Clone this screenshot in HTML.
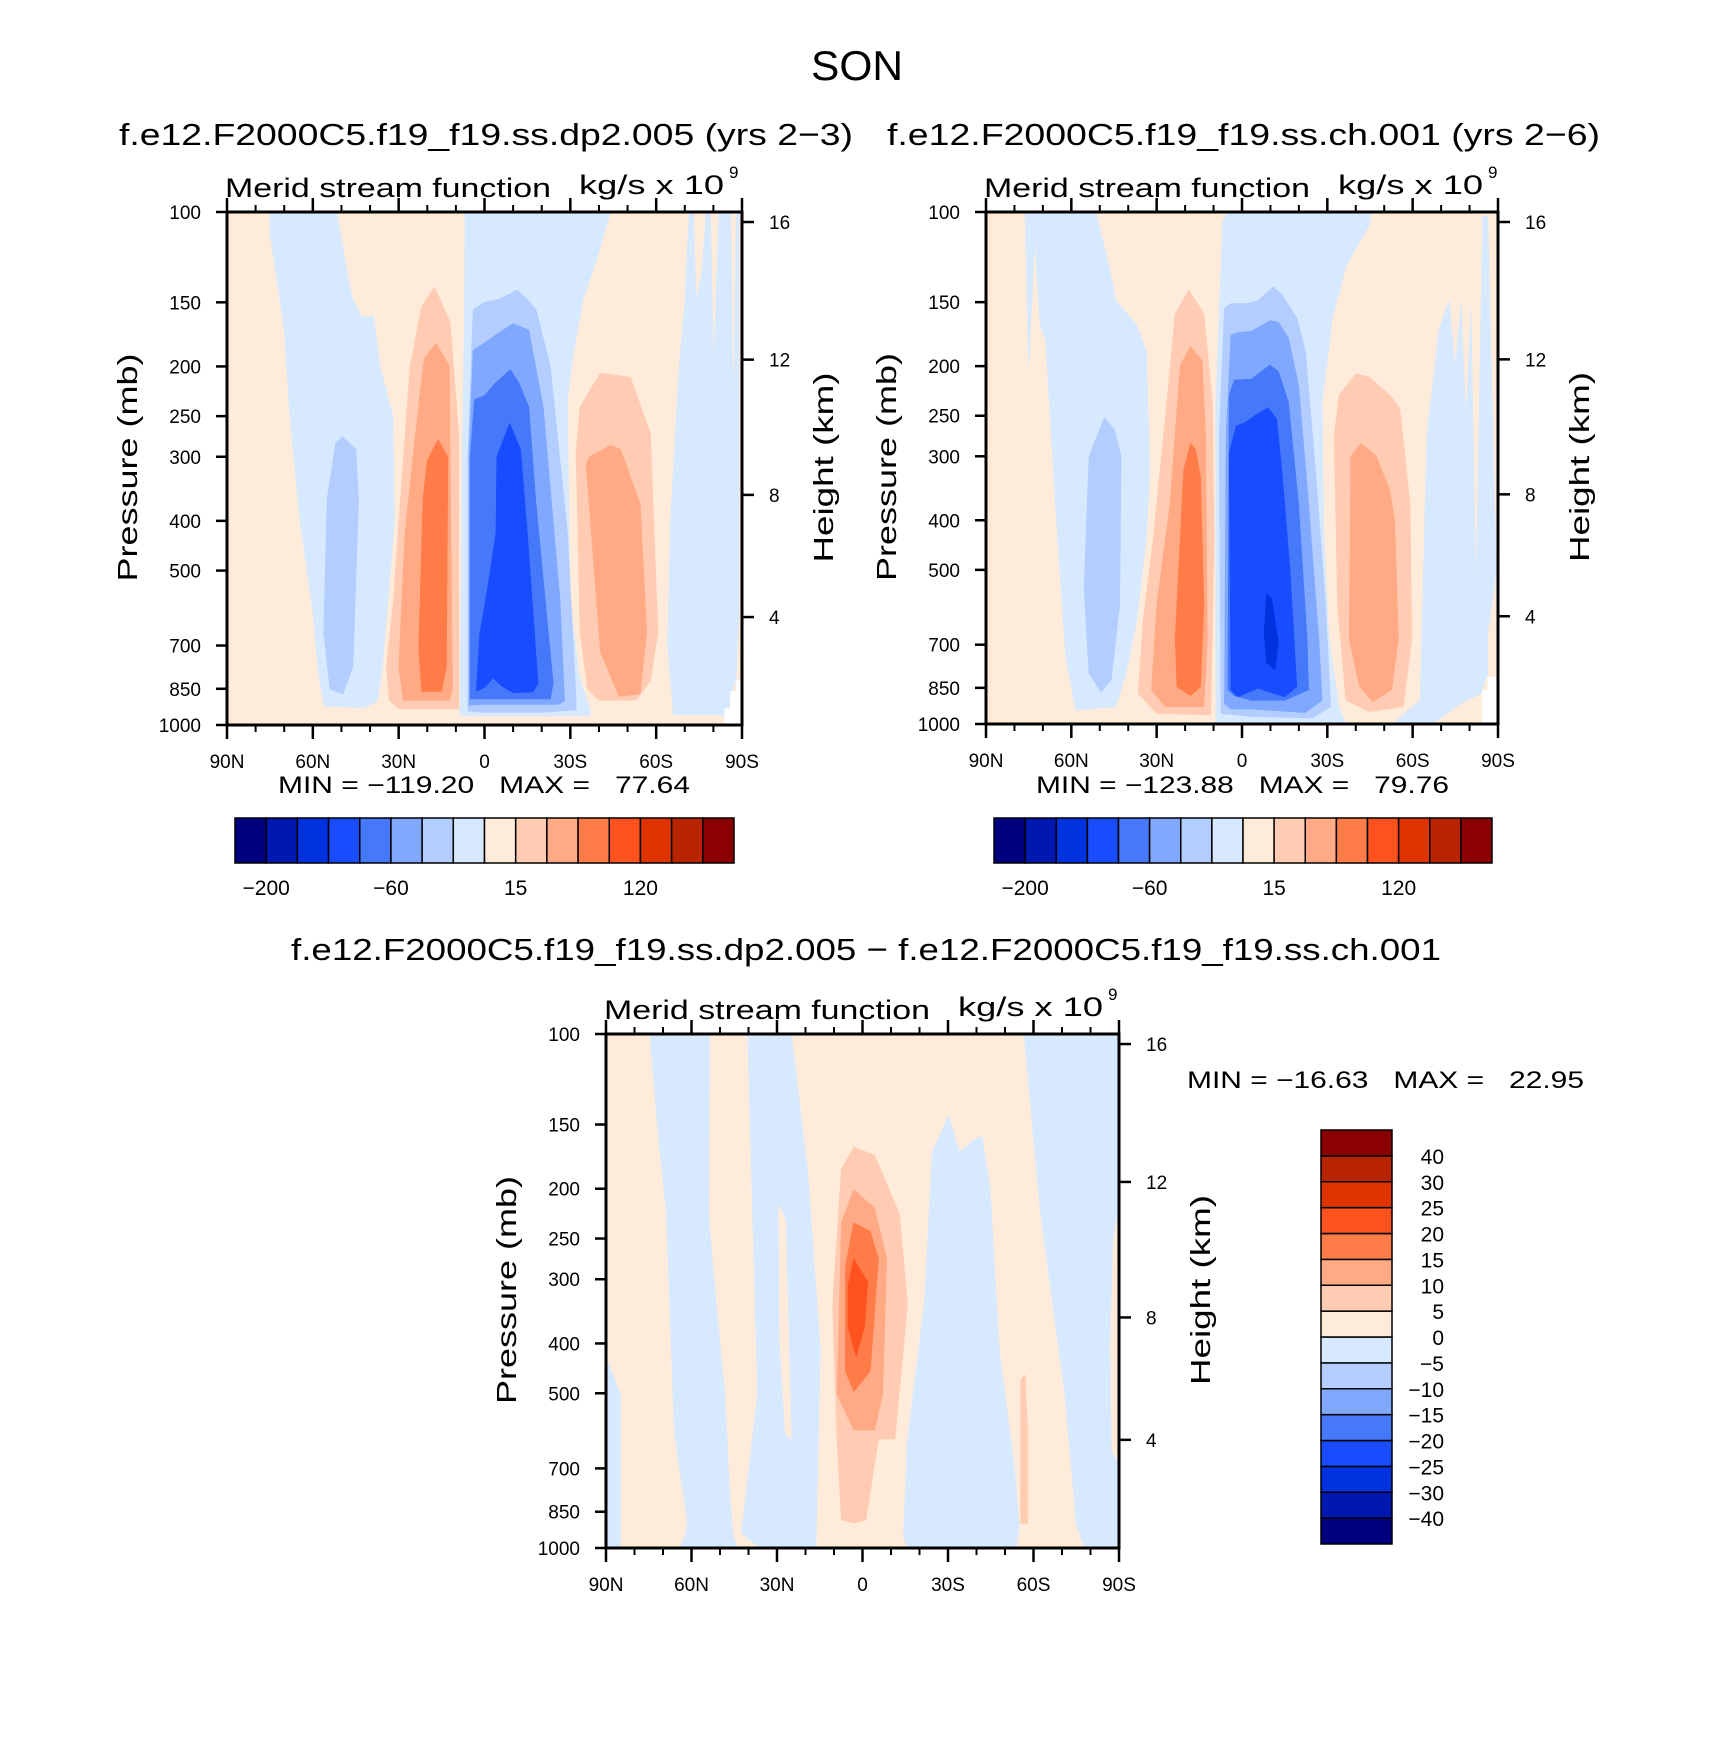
<!DOCTYPE html>
<html><head><meta charset="utf-8">
<style>
html,body{margin:0;padding:0;background:#fff;}
svg{display:block;}
text{font-family:"Liberation Sans",sans-serif;fill:#000;}
.pre{white-space:pre;}
</style></head>
<body>
<svg id="fig" xmlns="http://www.w3.org/2000/svg" width="1710" height="1758" viewBox="0 0 1710 1758">
<rect x="0" y="0" width="1710" height="1758" fill="#fff"/>
<text x="857" y="80" font-size="42" text-anchor="middle" textLength="92" lengthAdjust="spacingAndGlyphs">SON</text>
<text x="119" y="145" font-size="31" textLength="734" lengthAdjust="spacingAndGlyphs">f.e12.F2000C5.f19_f19.ss.dp2.005 (yrs 2−3)</text>
<text x="887" y="145" font-size="31" textLength="713" lengthAdjust="spacingAndGlyphs">f.e12.F2000C5.f19_f19.ss.ch.001 (yrs 2−6)</text>
<text x="291" y="960" font-size="31" textLength="1150" lengthAdjust="spacingAndGlyphs">f.e12.F2000C5.f19_f19.ss.dp2.005 − f.e12.F2000C5.f19_f19.ss.ch.001</text>
<g id="layer"></g>
</svg>
<script>
// ---- data ----
const palette = ["#00007f","#0018b0","#0032e0","#1a4cff","#4679fa","#80a8ff","#b3cdff","#d6e9ff","#ffebd9","#ffccb3","#ffaa85","#ff7b47","#ff521f","#e03400","#b82300","#8b0000"];
const latTicks = [90,60,30,0,-30,-60,-90];
const latTickLabels = ["90N","60N","30N","0","30S","60S","90S"];
const minorLats = [80,70,50,40,20,10,-10,-20,-40,-50,-70,-80];
const presTicks = [100,150,200,250,300,400,500,700,850,1000];
const heightTicks = [16,12,8,4];
const heightTickPres = [104.6,194,356,616];
const topBarLabels = ["−200","−60","15","120"];
const topBarLabelBounds = [1,5,9,13];
const diffBarLabels = ["40","30","25","20","15","10","5","0","−5","−10","−15","−20","−25","−30","−40"];
const panelStats = [["−119.20","77.64"],["−123.88","79.76"],["−16.63","22.95"]];

const plot1Regions = [
 {lvl:7, pts:[[75,100],[51.7,100],[47,140],[46,148],[43,160],[38.8,160],[36.5,200],[32,250],[31.5,400],[34,600],[36,800],[37.5,900],[42,925],[56,920],[58,800],[60,600],[64.5,400],[68,250],[70,170],[73,130],[75,110]]},
 {lvl:6, pts:[[49.7,274],[52,282],[55,364],[56.2,661],[54,850],[49.5,870],[46,770],[44,364],[45,290]]},
 {lvl:9, pts:[[17.5,140],[22,153],[26,200],[28.4,305],[31.8,570],[34.3,770],[33.3,895],[30,930],[9,930],[9,272],[12,164]]},
 {lvl:10, pts:[[17,180],[21,193],[23,237],[27.8,422],[30,770],[28.4,895],[12.3,895],[11.2,850],[12.3,200]]},
 {lvl:11, pts:[[16.2,278],[20,305],[21.5,364],[23,710],[22,860],[15,860],[13.3,770],[12.8,300]]},
 {lvl:7, pts:[[6.8,100],[-44,100],[-40,120],[-34.5,148],[-31,190],[-29,232],[-29.5,400],[-30,570],[-33,800],[-37,935],[-37,960],[8.6,960],[8,400],[7,150]]},
 {lvl:6, pts:[[5.8,940],[5.8,300],[4,155],[0,150],[-5,148],[-11.4,142],[-15,148],[-18,155],[-23,200],[-29,423],[-32,895],[-32,935],[-20,945],[0,945]]},
 {lvl:5, pts:[[5.4,915],[5.4,300],[4,186],[0,180],[-5,172],[-10,165],[-15.5,170],[-20.5,240],[-26.4,570],[-28,895],[-26,912],[0,912]]},
 {lvl:4, pts:[[5,890],[5,300],[3.5,232],[0,228],[-4,215],[-9,203],[-12,215],[-15.5,240],[-18,370],[-24,830],[-23,890],[0,890]]},
 {lvl:3, pts:[[2.9,860],[1.6,660],[-0.8,553],[-4,422],[-4.3,300],[-8.8,258],[-12.6,290],[-15,423],[-18.7,830],[-17,862],[-10,865],[-6,840],[-3,810],[0,845]]},
 {lvl:9, pts:[[-40.4,206],[-33.4,240],[-32,295],[-33.4,660],[-36,850],[-40,895],[-53,895],[-58,820],[-60.6,660],[-58,270],[-51,210]]},
 {lvl:10, pts:[[-44,285],[-36.6,300],[-35.5,310],[-40.5,720],[-47,880],[-54.4,870],[-56.7,660],[-54.4,370],[-47.5,290]]},
 {lvl:7, pts:[[-66,955],[-64,700],[-65,400],[-68,200],[-70,150],[-71.5,100],[-73,100],[-74,150],[-76,130],[-77.5,100],[-79,100],[-80,200],[-82,100],[-86,100],[-87,250],[-88,100],[-89,100],[-89,600],[-88,800],[-87,850],[-86,880],[-85,960],[-80,955]]},
 {lvl:-1, pts:[[-84,1000],[-84,930],[-86,930],[-86,860],[-88,860],[-88,820],[-90,820],[-90,1000]]}
];

const plot2Regions = [
 {lvl:7, pts:[[76.3,100],[51.4,100],[46.6,128],[44.3,149],[37.1,166],[33.6,187],[32.4,318],[33.6,433],[37.1,632],[40.7,795],[44.3,925],[58.5,940],[62,737],[65.6,372],[69,179],[71,166],[72.8,113],[75,200]]},
 {lvl:6, pts:[[48.4,252],[53.8,300],[55.5,545],[53.8,795],[49.6,866],[46,820],[43,586],[42.5,300],[44.9,266]]},
 {lvl:9, pts:[[18.7,142],[23.5,158],[27,254],[31.2,433],[34.8,632],[36.5,872],[30,954],[11,960],[9.8,433],[10.4,235],[13.4,158]]},
 {lvl:10, pts:[[18.1,183],[21.7,199],[25.3,372],[30,586],[31.8,858],[27,925],[13.4,925],[12.2,683],[12.8,274],[14,195]]},
 {lvl:11, pts:[[18.1,283],[20.5,319],[23.5,683],[22.9,845],[18.1,880],[14.6,845],[13.4,586],[14.6,329],[16.3,291]]},
 {lvl:7, pts:[[6.8,104],[5,100],[-45.4,100],[-44.8,106],[-36.5,128],[-31.8,161],[-28.2,235],[-28.8,433],[-30.6,683],[-34.1,925],[-36.5,1000],[9.2,1000],[9.2,235]]},
 {lvl:6, pts:[[6.2,154],[3.9,151],[-2.1,151],[-5.6,149],[-11,140],[-14,145],[-19.3,161],[-22.3,187],[-25.8,318],[-29.4,586],[-31.2,925],[-24.6,974],[-3.3,967],[7.4,954],[8,274]]},
 {lvl:5, pts:[[6.2,912],[5.6,274],[3.9,174],[1.5,172],[-3.3,171],[-9.8,163],[-12.8,164],[-16.3,176],[-19.9,218],[-23.4,372],[-27,683],[-28.2,899],[-22.3,950],[-3.3,935],[3.9,935]]},
 {lvl:4, pts:[[5,858],[4.5,228],[2.7,213],[-3.3,212],[-9.8,199],[-12.8,205],[-16.3,235],[-19.9,372],[-22.9,683],[-23.4,858],[-15,899],[-3.3,899],[2.7,880]]},
 {lvl:3, pts:[[3.9,858],[4.5,296],[2.1,262],[-0.9,258],[-4.5,250],[-9.2,241],[-12.2,254],[-14,318],[-16.9,504],[-19.3,845],[-15,885],[-5.6,852],[1.5,885]]},
 {lvl:2, pts:[[-8.6,556],[-10.4,569],[-12.8,694],[-11.6,783],[-8.6,760],[-7.8,664]]},
 {lvl:9, pts:[[-40.1,207],[-34.1,228],[-32.4,274],[-33.6,586],[-36.5,899],[-44.8,946],[-56.7,925],[-59.7,683],[-59.1,372],[-55.5,242],[-52,228],[-44.8,210]]},
 {lvl:10, pts:[[-41.9,283],[-38.3,300],[-37.7,683],[-41.3,845],[-46,905],[-52.6,858],[-55,683],[-53.7,401],[-52,350],[-47.2,300]]},
 {lvl:7, pts:[[-54,1000],[-54.3,984],[-62.6,899],[-65,274],[-69.2,170],[-72.8,149],[-75,202],[-77,149],[-78.7,254],[-80.5,154],[-82.3,552],[-84.6,102],[-86.4,102],[-89.4,504],[-86.4,664],[-86.4,796],[-84,872],[-77,912],[-68.8,984],[-66,1000]]},
 {lvl:-1, pts:[[-84.6,1000],[-84.6,860],[-86.5,860],[-86.5,810],[-90,810],[-90,1000]]}
];

const diffRegions = [
 {lvl:7, pts:[[74.6,100],[53.6,100],[54,224],[51,350],[48.3,501],[46.5,800],[45.5,935],[44,1000],[64,1000],[62,935],[61.5,882],[66,600],[68.8,224],[72,150]]},
 {lvl:7, pts:[[40.3,100],[25,100],[19.3,183],[14.8,410],[16.3,1000],[36,1000],[42.5,935],[36.8,501]]},
 {lvl:8, pts:[[29.4,215],[27,230],[25,614],[27,600],[29,400]]},
 {lvl:7, pts:[[89.3,435],[85,500],[85,1000],[90,1000],[90,435]]},
 {lvl:7, pts:[[-24.5,169],[-30.3,144],[-34,170],[-39,161],[-41.9,158],[-44.8,200],[-48,410],[-53,676],[-55,900],[-54,1000],[-15.8,1000],[-14.3,950],[-15.8,614],[-21.7,335]]},
 {lvl:7, pts:[[-56.7,100],[-90,100],[-90,1000],[-78,1000],[-75,900],[-71,501],[-62.5,224]]},
 {lvl:8, pts:[[-88,250],[-90,220],[-90,680],[-87.5,650],[-87,400]]},
 {lvl:9, pts:[[-55.5,470],[-57,460],[-58,600],[-58,895],[-55.5,895]]},
 {lvl:9, pts:[[3.1,166],[-4.2,172],[-13,224],[-15.8,335],[-11.4,614],[-5.6,614],[-1.2,882],[3.1,895],[7.4,882],[9,614],[10.5,335],[7.4,183]]},
 {lvl:10, pts:[[3.1,201],[-4.2,218],[-8.5,274],[-7.1,501],[-4.2,590],[3.1,590],[9,501],[7.4,233]]},
 {lvl:11, pts:[[3.1,233],[-2.7,242],[-5.6,274],[-2.7,453],[3.1,496],[6,453],[6,284]]},
 {lvl:12, pts:[[3.1,274],[-1.9,304],[-0.7,371],[2.2,424],[5.1,371],[5.1,309]]}
];

// ---- drawing ----
const NS = "http://www.w3.org/2000/svg";
const layer = document.getElementById('layer');
function mk(tag, attrs, parent){ const e=document.createElementNS(NS,tag); for(const k in attrs) e.setAttribute(k,attrs[k]); (parent||layer).appendChild(e); return e; }

function drawPanel(id, x0, y0, W, H, regions, stats, statsX, statsY, statsLen){
  const g = mk('g',{});
  
  
  const xs = lat => x0 + (90-lat)/180*W;
  const ys = p => y0 + Math.log10(p/100)*H;
  const clip = mk('clipPath',{id:id+'-clip'}, g);
  mk('rect',{x:x0,y:y0,width:W,height:H},clip);
  const plot = mk('g',{'clip-path':'url(#'+id+'-clip)'}, g);
  
  
  const base = mk('rect',{x:x0,y:y0,width:W,height:H,fill:palette[8]}, plot);
  
  
  regions.forEach((r,i)=>{
    const col = r.lvl<0 ? '#ffffff' : palette[r.lvl];
    const d = r.pts.map(q=>xs(q[0]).toFixed(1)+','+ys(q[1]).toFixed(1)).join(' ');
    const poly = mk('polygon',{points:d, fill:col, stroke:col, 'stroke-width':0.6, 'stroke-linejoin':'round'}, plot);
    
    
  });
  const frame = mk('rect',{x:x0,y:y0,width:W,height:H,fill:'none',stroke:'#000','stroke-width':3}, g);
  
  
  latTicks.forEach((lat,i)=>{
    const x = xs(lat);
    mk('line',{x1:x,x2:x,y1:y0,y2:y0-14,stroke:'#000','stroke-width':2.5},g);
    mk('line',{x1:x,x2:x,y1:y0+H,y2:y0+H+14,stroke:'#000','stroke-width':2.5},g);
    const t = mk('text',{x:x,y:y0+H+43,'font-size':19,'text-anchor':'middle'},g);
    t.textContent = latTickLabels[i];
    
    
  });
  minorLats.forEach(lat=>{
    const x = xs(lat);
    mk('line',{x1:x,x2:x,y1:y0,y2:y0-7,stroke:'#000','stroke-width':2},g);
    mk('line',{x1:x,x2:x,y1:y0+H,y2:y0+H+7,stroke:'#000','stroke-width':2},g);
  });
  presTicks.forEach(p=>{
    const y = ys(p);
    mk('line',{x1:x0,x2:x0-11,y1:y,y2:y,stroke:'#000','stroke-width':2.5},g);
    const t = mk('text',{x:x0-26,y:y+7,'font-size':19,'text-anchor':'end'},g);
    t.textContent = p;
    
    
  });
  heightTicks.forEach((h,i)=>{
    const y = ys(heightTickPres[i]);
    mk('line',{x1:x0+W,x2:x0+W+12,y1:y,y2:y,stroke:'#000','stroke-width':2.5},g);
    const t = mk('text',{x:x0+W+27,y:y+7,'font-size':19},g);
    t.textContent = h;
    
    
  });
  const yc = y0+H*0.5;
  const pl = mk('text',{x:0,y:0,'font-size':28,'text-anchor':'middle',textLength:228,lengthAdjust:'spacingAndGlyphs',transform:'translate('+(x0-90)+','+(yc-1)+') rotate(-90)'},g);
  pl.textContent='Pressure  (mb)';
  
  
  const hl = mk('text',{x:0,y:0,'font-size':28,'text-anchor':'middle',textLength:190,lengthAdjust:'spacingAndGlyphs',transform:'translate('+(x0+W+91)+','+(yc-1)+') rotate(-90)'},g);
  hl.textContent='Height  (km)';
  
  
  const ml = mk('text',{x:x0-2,y:y0-15,'font-size':27,textLength:326,lengthAdjust:'spacingAndGlyphs'},g);
  ml.textContent='Merid stream function';
  
  
  const ul = mk('text',{x:x0+352,y:y0-18,'font-size':27,textLength:145,lengthAdjust:'spacingAndGlyphs'},g);
  ul.textContent='kg/s x 10';
  
  
  const sup = mk('text',{x:x0+502,y:y0-34,'font-size':17},g);
  sup.textContent='9';
  
  
  const st = mk('text',{x:statsX,y:statsY,'font-size':24,textLength:statsLen,lengthAdjust:'spacingAndGlyphs','class':'pre'},g);
  st.textContent='MIN = '+stats[0]+'   MAX =   '+stats[1];
  
  
}

function drawHBar(id, x0, y0, w, h){
  const g = mk('g',{});
  
  
  const bw = w/palette.length;
  palette.forEach((c,i)=>{
    const r = mk('rect',{x:x0+i*bw,y:y0,width:bw,height:h,fill:c,stroke:'#000','stroke-width':1.5},g);
    
    
  });
  topBarLabels.forEach((lab,i)=>{
    const t = mk('text',{x:x0+topBarLabelBounds[i]*bw,y:y0+h+32,'font-size':21,'text-anchor':'middle'},g);
    t.textContent = lab;
    
    
  });
}

function drawVBar(id, x0, y0, w, h){
  const g = mk('g',{});
  
  
  const bh = h/palette.length;
  palette.forEach((c,i)=>{
    const r = mk('rect',{x:x0,y:y0+(palette.length-1-i)*bh,width:w,height:bh,fill:c,stroke:'#000','stroke-width':1.5},g);
    
    
  });
  diffBarLabels.forEach((lab,i)=>{
    const t = mk('text',{x:x0+w+52,y:y0+(i+1)*bh+8,'font-size':21,'text-anchor':'end'},g);
    t.textContent = lab;
    
    
  });
}

drawPanel('left', 227, 212, 515, 513, plot1Regions, panelStats[0], 278, 793, 412);
drawPanel('right', 986, 212, 512, 512, plot2Regions, panelStats[1], 1036, 793, 413);
drawPanel('diff', 606, 1034, 513, 514, diffRegions, panelStats[2], 1187, 1088, 397);
drawHBar('left-colorbar', 235, 818, 499, 45);
drawHBar('right-colorbar', 994, 818, 498, 45);
drawVBar('diff-colorbar', 1321, 1130, 71, 414);
</script>
</body></html>
